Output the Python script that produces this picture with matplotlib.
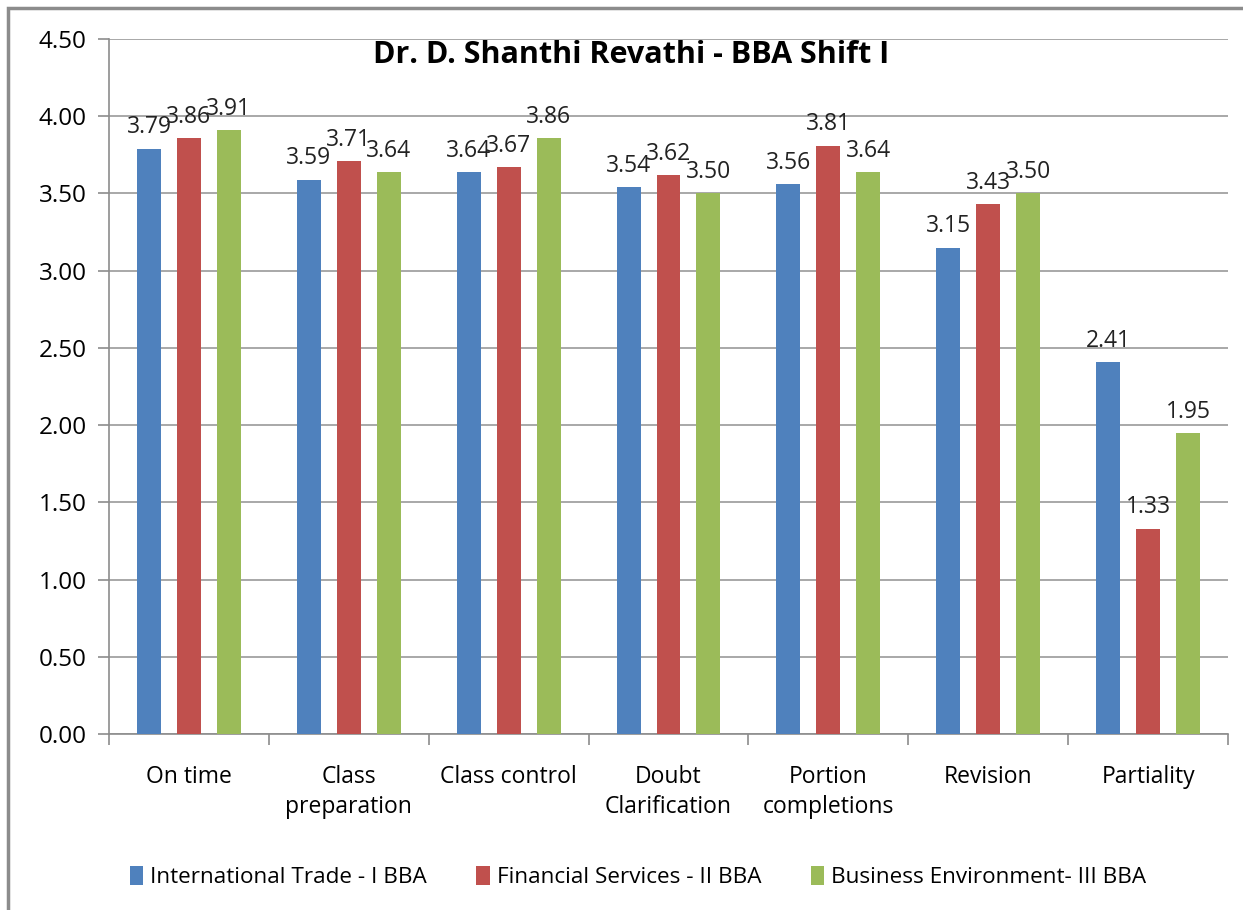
import matplotlib
matplotlib.use("Agg")
import matplotlib.pyplot as plt
import numpy as np
from matplotlib.patches import Rectangle

categories = ["On time", "Class\npreparation", "Class control", "Doubt\nClarification",
              "Portion\ncompletions", "Revision", "Partiality"]
series_names = ["International Trade - I BBA", "Financial Services - II BBA",
                "Business Environment- III BBA"]
intl_trade = [3.79, 3.59, 3.64, 3.54, 3.56, 3.15, 2.41]
fin_services = [3.86, 3.71, 3.67, 3.62, 3.81, 3.43, 1.33]
bus_env = [3.91, 3.64, 3.86, 3.50, 3.64, 3.50, 1.95]
colors = ["#4F81BD", "#C0504D", "#9BBB59"]
title = "Dr. D. Shanthi Revathi - BBA Shift I"

plt.rcParams['font.family'] = ['Open Sans', 'DejaVu Sans']

W, H = 1243, 910
fig = plt.figure(figsize=(W/100, H/100), dpi=100)
ax = fig.add_axes([109/W, 1-734/H, (1228-109)/W, (734-39)/H])

# outer border
fig.patches.append(Rectangle((8/W, -0.1), 1.2, (1-8/H)+0.1, transform=fig.transFigure,
                             fill=False, edgecolor="#8c8c8c", linewidth=2.5))

x = np.arange(len(categories))
width = 0.15
offsets = [-0.25, 0, 0.25]
for vals, off, c, name in zip([intl_trade, fin_services, bus_env], offsets, colors, series_names):
    bars = ax.bar(x + off, vals, width, color=c, label=name, zorder=3)
    for b, v in zip(bars, vals):
        ax.text(b.get_x() + b.get_width()/2, v + 0.06, f"{v:.2f}", ha="center", va="bottom",
                fontsize=16.5, color="#222222", zorder=4)

ax.set_xlim(-0.5, len(categories) - 0.5)
ax.set_ylim(0, 4.5)
ax.set_yticks(np.arange(0, 4.51, 0.5))
ax.set_yticklabels([f"{v:.2f}" for v in np.arange(0, 4.51, 0.5)], fontsize=17.5)
ax.yaxis.grid(True, color="#9a9a9a", linewidth=1.2, zorder=0)
ax.set_axisbelow(True)

ax.set_xticks(x)
ax.set_xticklabels(categories, fontsize=16.5, linespacing=1.35)
ax.tick_params(axis="x", length=0, pad=22)
ax.set_xticks(np.arange(-0.5, len(categories), 1), minor=True)
ax.tick_params(axis="x", which="minor", length=8, color="#8c8c8c", width=1.2)
ax.tick_params(axis="y", length=8, color="#8c8c8c", width=1.2, pad=8)

for s in ["top", "right"]:
    ax.spines[s].set_visible(False)
ax.spines["left"].set_color("#8c8c8c")
ax.spines["bottom"].set_color("#8c8c8c")
ax.spines["left"].set_linewidth(1.2)
ax.spines["bottom"].set_linewidth(1.2)

fig.text(631/W, 1-55/H, title, ha="center", va="center", fontsize=22, fontweight="bold")

handles, labels = ax.get_legend_handles_labels()
fig.legend(handles, labels, loc="center", bbox_to_anchor=(638/W, 1-877/H), ncol=3,
           frameon=False, fontsize=16.2, handlelength=0.6, handleheight=0.9,
           handletextpad=0.3, columnspacing=2.2)

fig.savefig("out.png", dpi=100)
